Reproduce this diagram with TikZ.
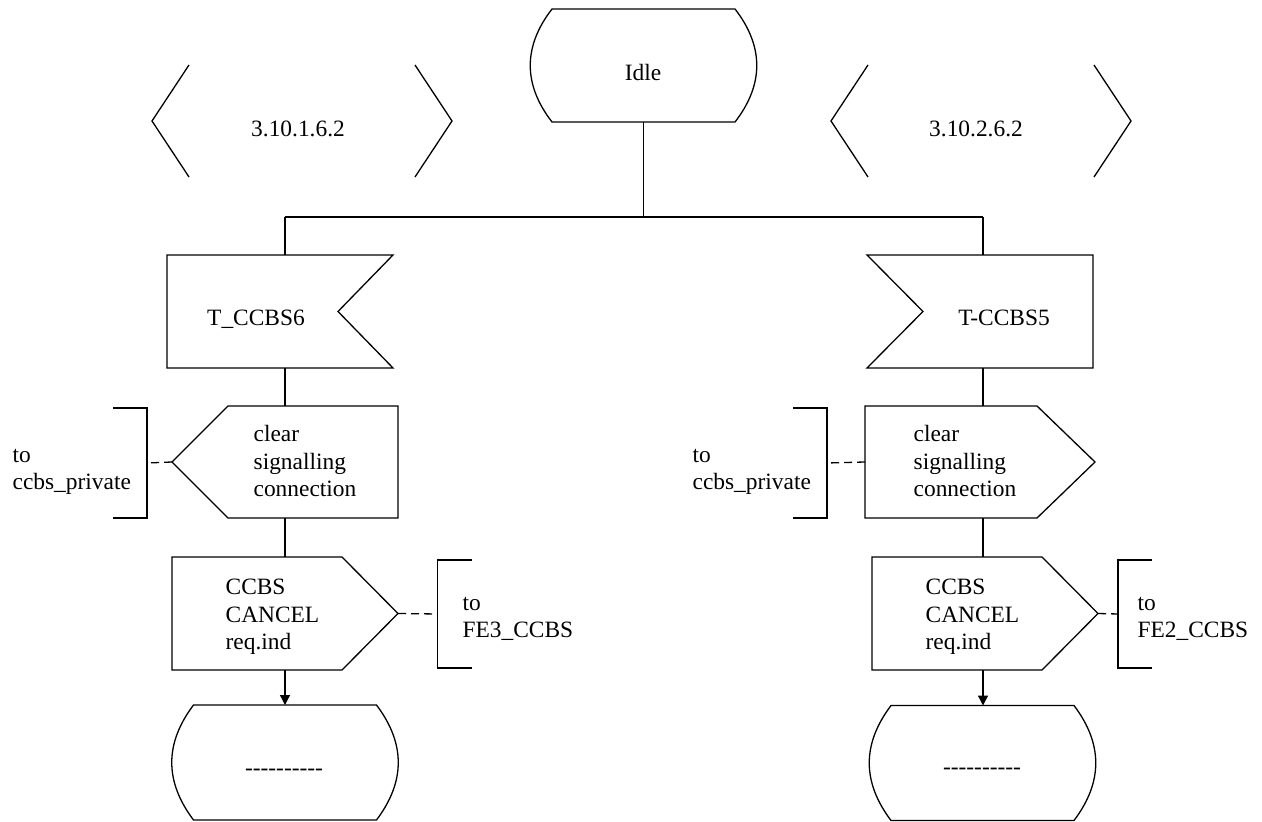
\documentclass[tikz,border=0pt]{standalone}
\usepackage{fontspec}
\setmainfont{Liberation Serif}
\usetikzlibrary{calc,arrows.meta,positioning}

\begin{document}
\begin{tikzpicture}[
  x=0.5pt,y=-0.5pt,line width=0.65pt,
  every node/.style={font=\fontsize{11.7}{13.8}\selectfont},
  statebox/.style={rectangle,inner sep=0pt,outer sep=0pt,minimum width=113.5pt,minimum height=56.5pt},
  refbox/.style={rectangle,inner sep=0pt,outer sep=0pt,minimum width=150pt,minimum height=56pt},
  inbox/.style={rectangle,inner sep=0pt,outer sep=0pt,minimum width=113pt,minimum height=56.5pt},
  outbox/.style={rectangle,inner sep=0pt,outer sep=0pt,minimum width=113pt,minimum height=56pt},
  bracket/.style={rectangle,inner sep=0pt,outer sep=0pt,minimum width=17pt,minimum height=55pt},
  txt/.style={inner sep=0pt,align=left},
  flow/.style={-{Triangle[length=5pt,width=5pt]}},
  remote/.style={dash pattern=on 4pt off 2.5pt}
]
  \useasboundingbox (0,0) rectangle (1262,822);

  % symbols
  \node[statebox] (idle) at (643.5,65.5) {};
  \node[refbox] (refL) at (302,121) {};
  \node[refbox] (refR) at (981,121) {};
  \node[inbox] (inL) at (280,311.5) {};
  \node[inbox] (inR) at (980,311.5) {};
  \node[outbox] (outL1) at (285,462) {};
  \node[outbox,minimum width=115pt] (outR1) at (980,462) {};
  \node[outbox,minimum height=56.5pt,below=19.5pt of outL1] (outL2) {};
  \node[outbox,minimum height=56.5pt] (outR2) at (985,613.5) {};
  \node[statebox,minimum height=57.5pt,below=17.5pt of outL2] (stL) {};
  \node[statebox,minimum height=57.5pt] (stR) at (982.5,763) {};
  \node[bracket] (brL1) at (130,463) {};
  \node[bracket] (brR1) at (810,463) {};
  \node[bracket,minimum height=54pt] (brL2) at (454.5,614) {};
  \node[bracket,minimum height=54pt] (brR2) at (1135,614) {};

  % outlines
  \foreach \s in {idle,stL,stR}{
    \draw ($(\s.north west)+(22,0)$) -- ($(\s.north east)+(-22,0)$)
      .. controls ($(\s.east)+(7,-19)$) and ($(\s.east)+(7,19)$) .. ($(\s.south east)+(-22,0)$)
      -- ($(\s.south west)+(22,0)$)
      .. controls ($(\s.west)+(-7,19)$) and ($(\s.west)+(-7,-19)$) .. cycle;
  }
  \foreach \s in {refL,refR}{
    \draw ($(\s.north west)+(37,0)$) -- (\s.west) -- ($(\s.south west)+(37,0)$);
    \draw ($(\s.north east)+(-37,0)$) -- (\s.east) -- ($(\s.south east)+(-37,0)$);
  }
  \draw (inL.north west) -- (inL.north east) -- ($(inL.east)+(-55,0)$) -- (inL.south east) -- (inL.south west) -- cycle;
  \draw (inR.north east) -- (inR.north west) -- ($(inR.west)+(56,0)$) -- (inR.south west) -- (inR.south east) -- cycle;
  \draw (outL1.west) -- ($(outL1.north west)+(56,0)$) -- (outL1.north east) -- (outL1.south east) -- ($(outL1.south west)+(56,0)$) -- cycle;
  \draw (outR1.north west) -- ($(outR1.north east)+(-58,0)$) -- (outR1.east) -- ($(outR1.south east)+(-58,0)$) -- (outR1.south west) -- cycle;
  \foreach \s in {outL2,outR2}{
    \draw (\s.north west) -- ($(\s.north east)+(-56,0)$) -- (\s.east) -- ($(\s.south east)+(-56,0)$) -- (\s.south west) -- cycle;
  }
  \foreach \s in {brL1,brR1}{
    \draw (\s.north west) -- (\s.north east) -- (\s.south east) -- (\s.south west);
  }
  \foreach \s in {brL2,brR2}{
    \draw (\s.north east) -- (\s.north west) -- (\s.south west) -- (\s.south east);
  }

  % texts
  \node[txt] (idleT) at (643,73) {Idle};
  \node[txt] (refLT) at (298,128.5) {3.10.1.6.2};
  \node[txt] (refRT) at (976,128.5) {3.10.2.6.2};
  \node[txt] (inLT) at (256,319) {T\_CCBS6};
  \node[txt] (inRT) at (1004,318) {T-CCBS5};
  \node[txt,anchor=west] (outL1T) at (253,461) {clear\\signalling\\connection};
  \node[txt,anchor=west] (outR1T) at (913,461) {clear\\signalling\\connection};
  \node[txt,anchor=west] (outL2T) at (225,617) {CCBS\\CANCEL\\req.ind};
  \node[txt,anchor=west] (outR2T) at (925,617) {CCBS\\CANCEL\\req.ind};
  \node[txt,anchor=west] (brL1T) at (12,472) {to\\ccbs\_private};
  \node[txt,anchor=west] (brR1T) at (692,472) {to\\ccbs\_private};
  \node[txt,anchor=west] (brL2T) at (462,619) {to\\FE3\_CCBS};
  \node[txt,anchor=west] (brR2T) at (1137,619) {to\\FE2\_CCBS};
  \node[txt] (stLT) at (284,772) {\mbox{-}\mbox{-}\mbox{-}\mbox{-}\mbox{-}\mbox{-}\mbox{-}\mbox{-}\mbox{-}\mbox{-}};
  \node[txt] (stRT) at (982,771) {\mbox{-}\mbox{-}\mbox{-}\mbox{-}\mbox{-}\mbox{-}\mbox{-}\mbox{-}\mbox{-}\mbox{-}};

  % flow lines
  \coordinate (forkL) at (285,217);
  \coordinate (forkR) at (983,217);
  \draw (idle.south) -- (idle.south |- forkL);
  \draw (forkL) -- (forkR);
  \draw (forkL) -- (forkL |- inL.north);
  \draw (forkR) -- (forkR |- inR.north);
  \draw (inL.south -| forkL) -- (outL1.north -| forkL);
  \draw (outL1.south -| forkL) -- (outL2.north -| forkL);
  \draw[flow] (outL2.south -| forkL) -- (stL.north -| forkL);
  \draw (inR.south -| forkR) -- (outR1.north -| forkR);
  \draw (outR1.south -| forkR) -- (outR2.north -| forkR);
  \draw[flow] (outR2.south -| forkR) -- (stR.north -| forkR);

  % signal routes
  \draw[remote] (outL1.west) -- (brL1.east);
  \draw[remote] (outR1.west) -- (brR1.east);
  \draw[remote] (outL2.east) -- (brL2.west);
  \draw[remote] (outR2.east) -- (brR2.west);
\end{tikzpicture}
\end{document}
